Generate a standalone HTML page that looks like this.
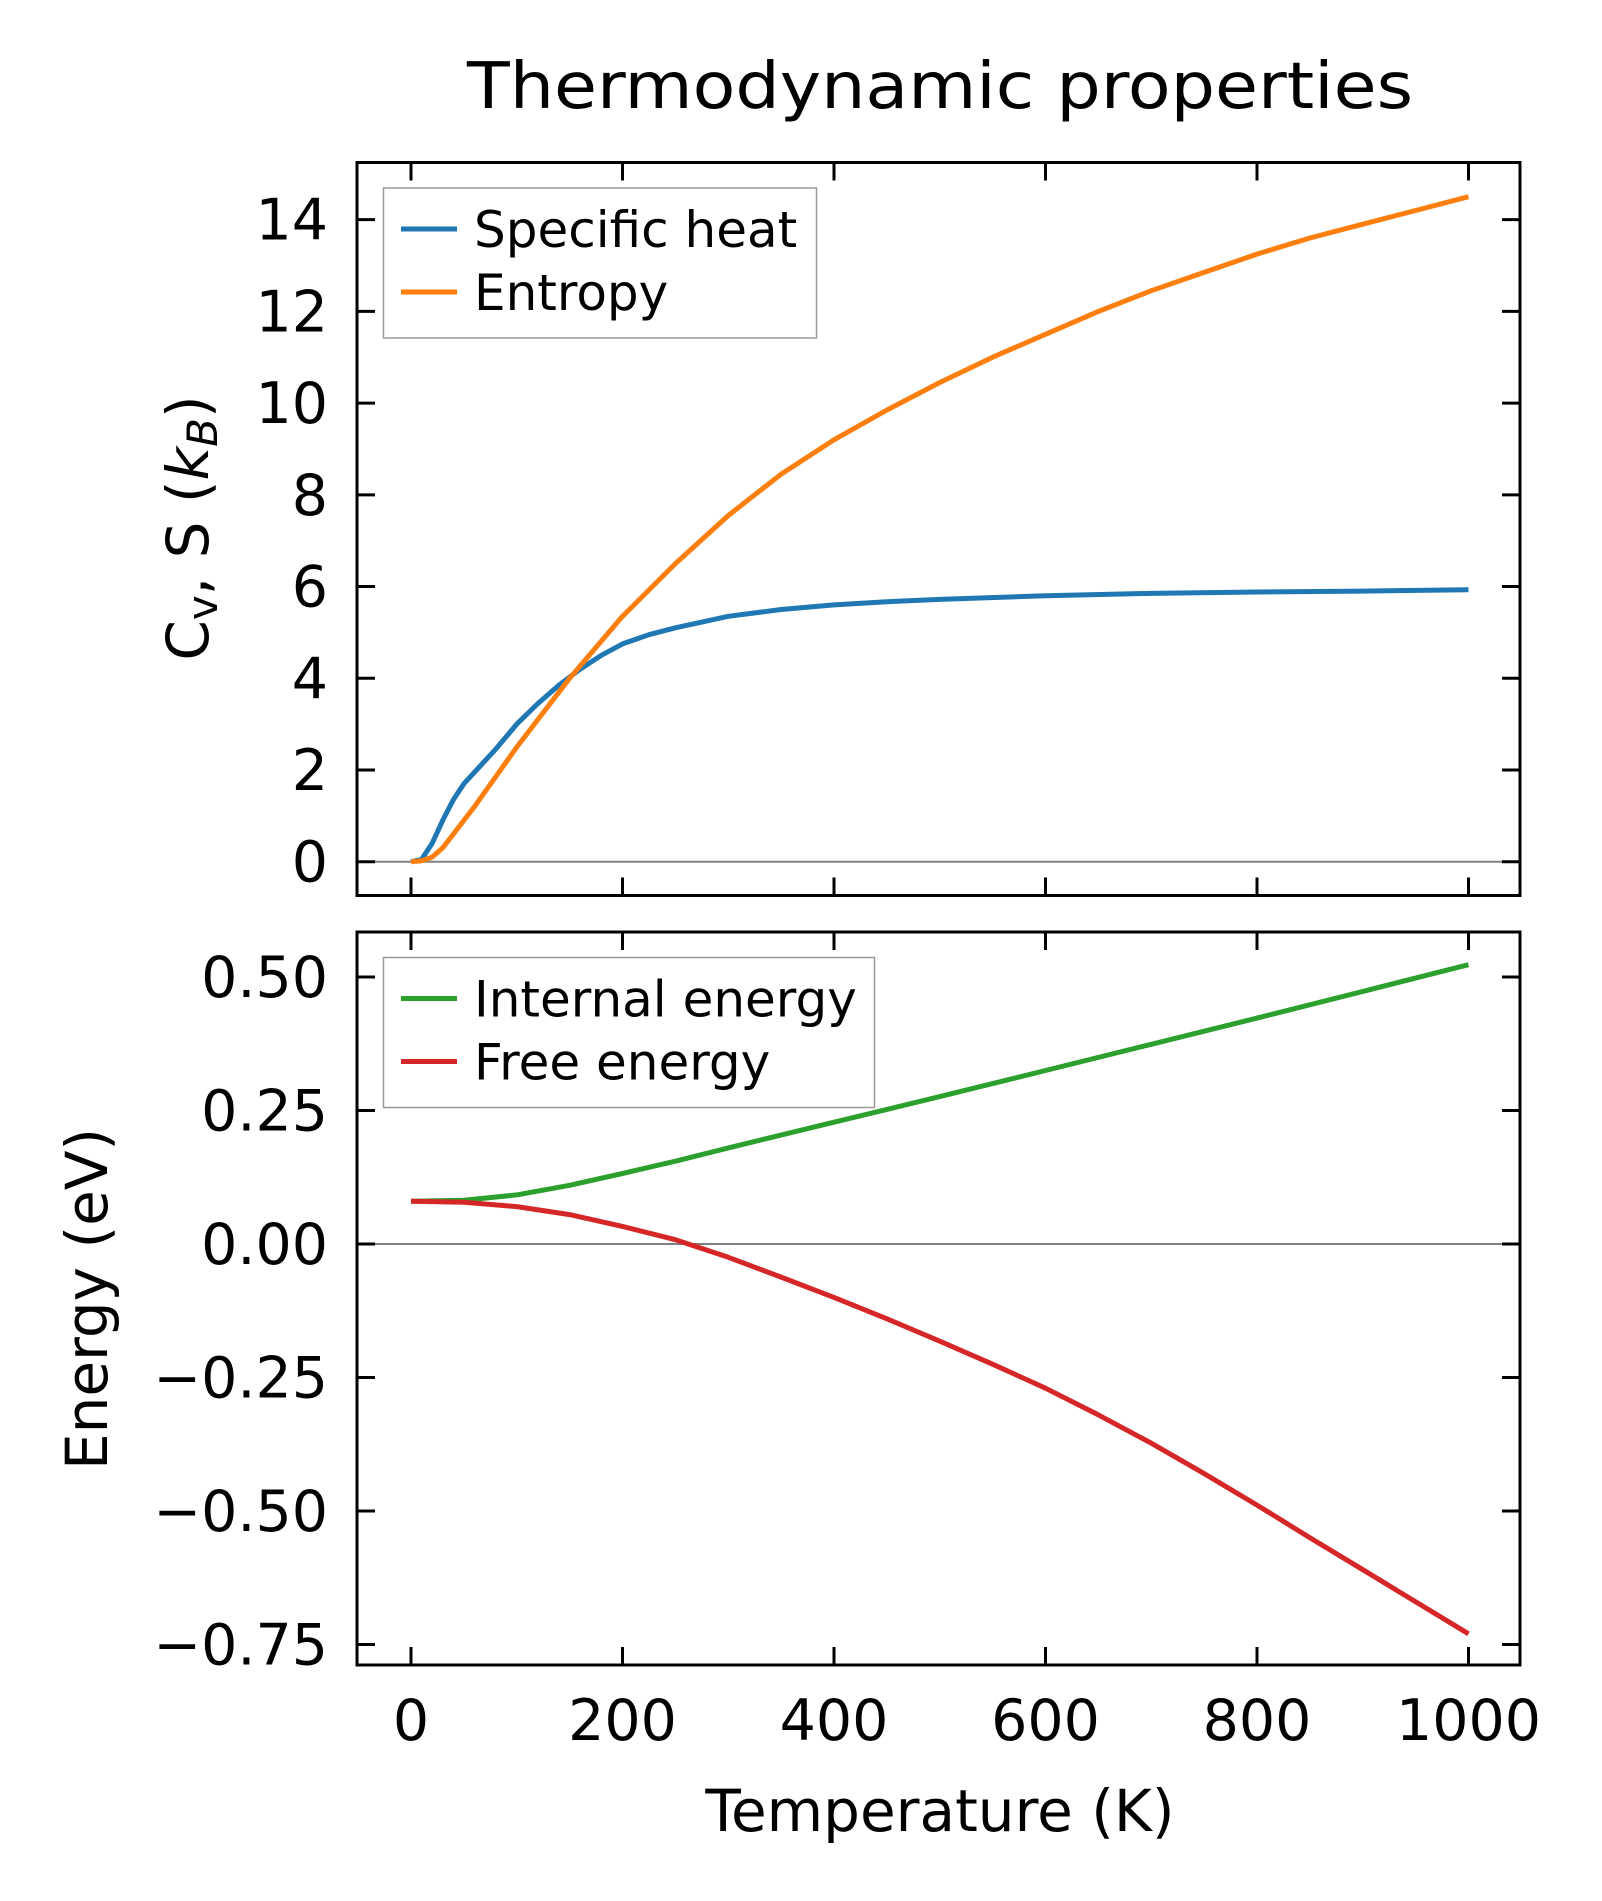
<!DOCTYPE html>
<html><head><meta charset="utf-8"><style>
html,body{margin:0;padding:0;background:#fff}
svg{display:block}
text{font-family:"DejaVu Sans","Liberation Sans",sans-serif;fill:#000}
</style></head><body>
<svg id="chart" width="1602" height="1901" viewBox="0 0 1602 1901" xmlns="http://www.w3.org/2000/svg">
<text x="940" y="108" font-size="64" text-anchor="middle" textLength="946" lengthAdjust="spacingAndGlyphs">Thermodynamic properties</text>
<g id="top"></g>
<g id="bot"></g>
<text transform="translate(208,528) rotate(-90)" font-size="58" text-anchor="middle">C<tspan font-size="42" dy="9">v</tspan><tspan dy="-9">, S (</tspan><tspan font-style="italic">k</tspan><tspan font-size="42" font-style="italic" dy="9">B</tspan><tspan dy="-9">)</tspan></text>
<text transform="translate(107,1299) rotate(-90)" font-size="58" text-anchor="middle">Energy (eV)</text>
<text x="940" y="1831" font-size="58" text-anchor="middle">Temperature (K)</text>
</svg>
<script>
const tCv=[0,10,20,30,40,50,60,80,100,120,140,160,180,200,225,250,300,350,400,450,500,600,700,800,900,1000];
const cv=[0,0.05,0.4,0.9,1.35,1.7,1.95,2.45,3.0,3.45,3.85,4.2,4.5,4.75,4.95,5.1,5.35,5.5,5.6,5.67,5.72,5.8,5.85,5.88,5.9,5.93];
const tS=[0,10,20,30,40,50,60,80,100,120,150,200,250,300,350,400,450,500,550,600,650,700,750,800,850,900,950,1000];
const entropy=[0,0.02,0.1,0.3,0.6,0.9,1.2,1.85,2.5,3.1,4.0,5.35,6.5,7.55,8.45,9.2,9.85,10.45,11.0,11.5,12.0,12.45,12.85,13.25,13.6,13.9,14.2,14.5];
const tU=[0,50,100,150,200,250,300,400,500,600,700,800,900,1000];
const internalE=[0.08,0.082,0.092,0.11,0.132,0.155,0.18,0.228,0.276,0.325,0.374,0.423,0.473,0.523];
const tF=[0,50,100,150,200,250,300,350,400,450,500,550,600,650,700,750,800,850,900,950,1000];
const freeE=[0.08,0.078,0.07,0.055,0.033,0.008,-0.025,-0.062,-0.1,-0.14,-0.182,-0.225,-0.27,-0.32,-0.373,-0.43,-0.489,-0.55,-0.61,-0.67,-0.73];
const xTicks=[0,200,400,600,800,1000];
const topTicks=[0,2,4,6,8,10,12,14];
const botTicks=[0.5,0.25,0,-0.25,-0.5,-0.75];
const botLabels=["0.50","0.25","0.00","\u22120.25","\u22120.50","\u22120.75"];

const NS="http://www.w3.org/2000/svg";
const L=357,R=1520;
const X=v=>411+v*1.0575;
function mk(p,tag,a){const e=document.createElementNS(NS,tag);for(const k in a)e.setAttribute(k,a[k]);p.appendChild(e);return e;}
function panel(g,top,bottom,Y,yt,ylab,series,legend,legBox,isBottom){
  let z=mk(g,'line',{x1:L,x2:R,y1:Y(0),y2:Y(0),stroke:'#808080','stroke-width':2});
  
  
  series.forEach(s=>{
    const d=s.t.map((t,i)=>(i?'L':'M')+X(t).toFixed(1)+','+Y(s.v[i]).toFixed(1)).join('');
    const p=mk(g,'path',{d:d,fill:'none',stroke:s.c,'stroke-width':5,'stroke-linejoin':'round'});
    
    
  });
  const f=mk(g,'rect',{x:L,y:top,width:R-L,height:bottom-top,fill:'none',stroke:'#000','stroke-width':3});
  
  
  xTicks.forEach(t=>{
    mk(g,'line',{x1:X(t),x2:X(t),y1:bottom,y2:bottom-18,stroke:'#000','stroke-width':3});
    mk(g,'line',{x1:X(t),x2:X(t),y1:top,y2:top+18,stroke:'#000','stroke-width':3});
    if(isBottom){const tx=mk(g,'text',{x:X(t),y:1740,'font-size':57,'text-anchor':'middle'});tx.textContent=t;
      
      }
  });
  yt.forEach((v,i)=>{
    mk(g,'line',{x1:L,x2:L+18,y1:Y(v),y2:Y(v),stroke:'#000','stroke-width':3});
    mk(g,'line',{x1:R,x2:R-18,y1:Y(v),y2:Y(v),stroke:'#000','stroke-width':3});
    const tx=mk(g,'text',{x:328,y:Y(v)+20,'font-size':57,'text-anchor':'end'});tx.textContent=ylab[i];
    
    
  });
  const lb=mk(g,'rect',{x:legBox[0],y:legBox[1],width:legBox[2],height:legBox[3],fill:'#fff','fill-opacity':0.8,stroke:'#999','stroke-width':1.5});
  
  
  legend.forEach((s,i)=>{
    const y=legBox[1]+41+i*63;
    mk(g,'line',{x1:401,x2:457,y1:y,y2:y,stroke:s.c,'stroke-width':5});
    const tx=mk(g,'text',{x:474,y:y+18,'font-size':50});tx.textContent=s.label;
    
    
  });
}
const Ytop=v=>861.7-v*45.86;
const Ybot=v=>1244-v*534;
const s1=[{t:tCv,v:cv,c:'#1f77b4',n:'specific-heat',label:'Specific heat'},{t:tS,v:entropy,c:'#ff7f0e',n:'entropy',label:'Entropy'}];
const s2=[{t:tU,v:internalE,c:'#2ca02c',n:'internal-energy',label:'Internal energy'},{t:tF,v:freeE,c:'#d62728',n:'free-energy',label:'Free energy'}];
panel(document.getElementById('top'),162.5,895.5,Ytop,topTicks,topTicks.map(String),s1,s1,[383.5,188,433,150],false);
panel(document.getElementById('bot'),932,1665,Ybot,botTicks,botLabels,s2,s2,[383.5,957.5,491,150],true);
</script>
</body></html>
